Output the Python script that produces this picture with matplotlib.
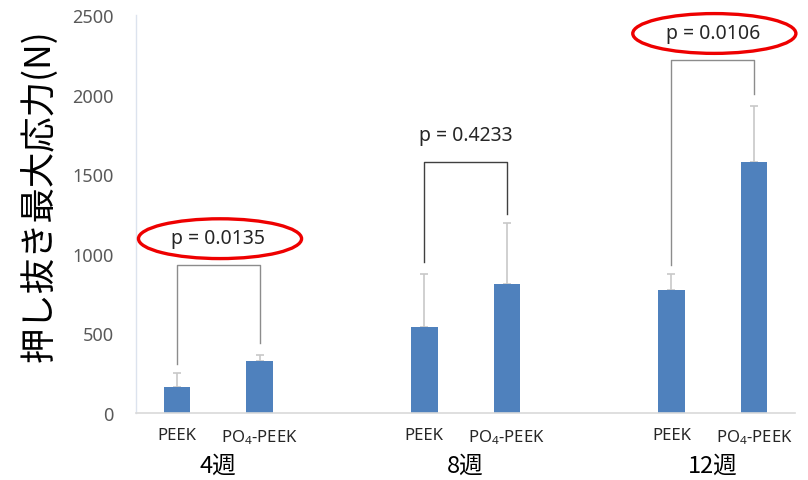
import numpy as np
import matplotlib.pyplot as plt
from matplotlib.patches import Ellipse

plt.rcParams['font.family'] = ['Noto Sans', 'Noto Sans CJK JP', 'DejaVu Sans']
plt.rcParams['mathtext.fontset'] = 'custom'
plt.rcParams['mathtext.rm'] = 'Noto Sans'
plt.rcParams['mathtext.default'] = 'regular'
CJK = ['Noto Sans CJK JP', 'DejaVu Sans']

# 期間・材料ごとの押し抜き最大応力 (N)
weeks = ['4週', '8週', '12週']
materials = ['PEEK', 'PO$_4$-PEEK']
means = [165, 327, 542, 812, 771, 1577]
sd_upper = [88, 37, 330, 383, 102, 353]

# 群間比較の p 値
p_values = ['0.0135', '0.4233', '0.0106']
significant = [True, False, True]
bracket_top = [930, 1579, 2219]
bracket_left_end = [308, 950, 930]
bracket_right_end = [440, 1250, 2004]
bracket_colors = ['#8c8c8c', '#404040', '#8c8c8c']

# 各群の間に空きカテゴリを1つ挟む
x = []
for g in range(len(weeks)):
    x += [g * 3, g * 3 + 1]
x = np.array(x)

fig = plt.figure(figsize=(8.08, 4.81), dpi=100)
ax = fig.add_axes([0.1683, 0.1393, 0.8157, 0.8274])

ax.bar(x, means, width=0.32, color='#4f81bd', zorder=2)
eb = ax.errorbar(x, means, yerr=[np.zeros(len(means)), sd_upper], fmt='none',
                 ecolor='#c8c8c8', elinewidth=1.2, capsize=3, capthick=1.2, zorder=1)
for cap in eb[1]:
    cap.set_color('#7f7f7f')

for g in range(len(weeks)):
    xl, xr = g * 3, g * 3 + 1
    c = bracket_colors[g]
    ax.plot([xl, xl, xr, xr],
            [bracket_left_end[g], bracket_top[g], bracket_top[g], bracket_right_end[g]],
            color=c, lw=1.0, zorder=1)
    ty = bracket_top[g] + 170
    ax.text((xl + xr) / 2, ty, f'p = {p_values[g]}', ha='center', va='center',
            fontsize=14, color='#262626')
    if significant[g]:
        ax.add_patch(Ellipse(((xl + xr) / 2 + 0.02, ty - 5), 1.98, 250, fill=False,
                             edgecolor='#ee0000', lw=2.4, clip_on=False, zorder=3))

ax.set_xlim(-0.5, 7.5)
ax.set_ylim(0, 2500)
ax.set_yticks(np.arange(0, 2501, 500))
ax.tick_params(axis='y', length=0, labelsize=13, labelcolor='#595959', pad=16)
ax.set_xticks(x)
ax.set_xticklabels(materials * len(weeks))
ax.tick_params(axis='x', length=0, labelsize=12, labelcolor='#262626', pad=10)

for g, w in enumerate(weeks):
    ax.text(g * 3 + 0.5, -0.132, w, transform=ax.get_xaxis_transform(),
            ha='center', va='center', fontsize=17, color='black', family=CJK)

ax.set_ylabel('押し抜き最大応力(N)', fontsize=25.5, color='black', family=CJK)
ax.yaxis.set_label_coords(-0.118, 0.548)

for side in ['top', 'right']:
    ax.spines[side].set_visible(False)
ax.spines['left'].set_color('#dce3ee')
ax.spines['bottom'].set_color('#d9d9d9')
ax.spines['left'].set_linewidth(1.0)
ax.spines['bottom'].set_linewidth(1.2)

fig.savefig('out.png', dpi=100)
